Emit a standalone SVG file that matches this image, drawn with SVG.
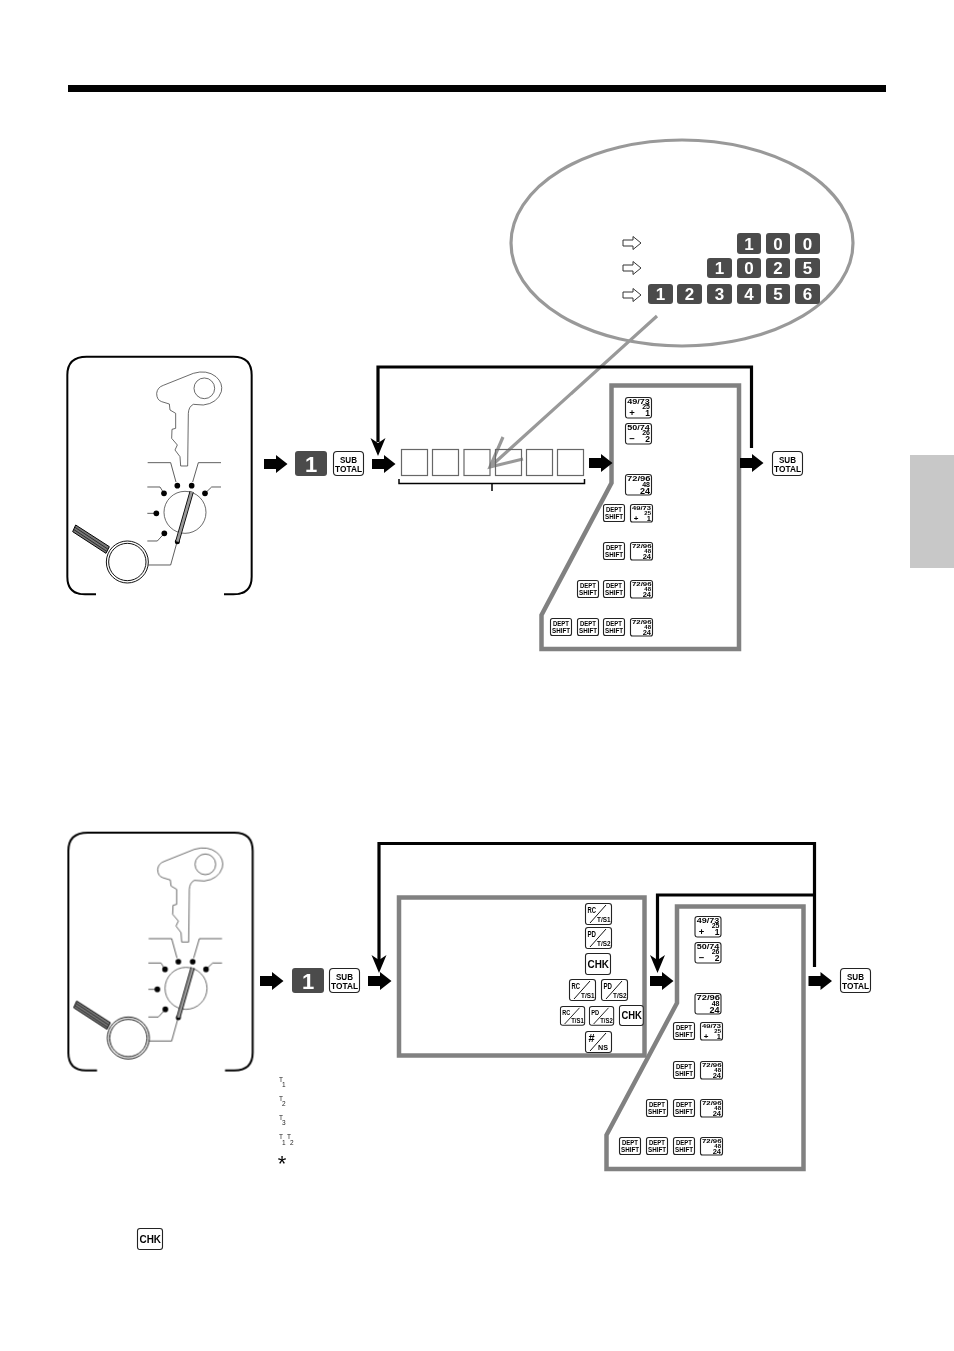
<svg xmlns="http://www.w3.org/2000/svg" width="954" height="1351" viewBox="0 0 954 1351">
<style>
text{font-family:"Liberation Sans",Arial,sans-serif;font-weight:bold;fill:#000}
.m{text-anchor:middle}.e{text-anchor:end}
.kb{fill:#fff;stroke:#222;stroke-width:1.1}
.dk{fill:#4a4a4a}
.dt{fill:#fff;font-size:17px;text-anchor:middle}
.dl{fill:#fff;font-size:22px;text-anchor:middle}
.fr{fill:none;stroke:#808080;stroke-width:4.500}
.cn{fill:none;stroke:#000;stroke-width:3.200}
.cell{fill:none;stroke:#666;stroke-width:1.200}
.ca{fill:none;stroke:#999;stroke-width:3.200}
.tx{font-size:6.500px;font-weight:normal;fill:#222}
</style>
<defs>
<path id="arr" d="M0,-5H12V-9L23.500,0L12,9V5H0Z" fill="#000"/>
<path id="hol" d="M0,-3H10V-6.500L18,0L10,6.500V3H0Z" fill="#fff" stroke="#333" stroke-width="1"/>
<path id="dn" d="M-7.500,-18L0,-13L7.500,-18L0,0Z" fill="#000"/>
<g id="sub"><rect class="kb" x="0.500" y="0.500" width="30" height="24" rx="3.500"/><text x="7" y="11.500" font-size="9.500" textLength="17" lengthAdjust="spacingAndGlyphs">SUB</text><text x="2" y="21" font-size="9.500" textLength="27" lengthAdjust="spacingAndGlyphs">TOTAL</text></g>
<g id="k49"><rect class="kb" x="0.500" y="0.500" width="26" height="20.500" rx="2.500"/><text x="2.300" y="6.800" font-size="7.500" textLength="22.500" lengthAdjust="spacingAndGlyphs">49/73</text><text class="e" x="25" y="12.300" font-size="7">25</text><text class="m" x="7" y="19" font-size="9.500">+</text><text class="e" x="25" y="19" font-size="8.500">1</text></g>
<g id="k50"><rect class="kb" x="0.500" y="0.500" width="26" height="20.500" rx="2.500"/><text x="2.300" y="6.800" font-size="7.500" textLength="22.500" lengthAdjust="spacingAndGlyphs">50/74</text><text class="e" x="25" y="12.300" font-size="7">26</text><text class="m" x="7" y="19" font-size="9.500">−</text><text class="e" x="25" y="19" font-size="8.500">2</text></g>
<g id="k72"><rect class="kb" x="0.500" y="0.500" width="26" height="20.500" rx="2.500"/><text x="2" y="6.800" font-size="7.500" textLength="23.500" lengthAdjust="spacingAndGlyphs">72/96</text><text class="e" x="25" y="12.500" font-size="7">48</text><text class="e" x="25" y="19.500" font-size="9">24</text></g>
<g id="k49s"><rect class="kb" x="0.500" y="0.500" width="22" height="17.500" rx="2"/><text x="2" y="5.800" font-size="6" textLength="19" lengthAdjust="spacingAndGlyphs">49/73</text><text class="e" x="21" y="10.500" font-size="6">25</text><text class="m" x="6" y="16.500" font-size="8">+</text><text class="e" x="21" y="16.500" font-size="7.500">1</text></g>
<g id="k72s"><rect class="kb" x="0.500" y="0.500" width="22" height="17.500" rx="2"/><text x="2" y="5.800" font-size="6" textLength="19.500" lengthAdjust="spacingAndGlyphs">72/96</text><text class="e" x="21" y="10.500" font-size="6">48</text><text class="e" x="21" y="16.800" font-size="7.500">24</text></g>
<g id="dept"><rect class="kb" x="0.500" y="0.500" width="21" height="17" rx="2"/><text x="3" y="7.500" font-size="7" textLength="16" lengthAdjust="spacingAndGlyphs">DEPT</text><text x="2" y="14.800" font-size="7" textLength="18" lengthAdjust="spacingAndGlyphs">SHIFT</text></g>
<g id="krc"><rect class="kb" x="0.500" y="0.500" width="26" height="21" rx="2.500"/><path d="M5,20L21,2" stroke="#111" stroke-width="1"/><text x="2.500" y="9.500" font-size="8.500" textLength="8.500" lengthAdjust="spacingAndGlyphs">RC</text><text x="12" y="18.500" font-size="7" textLength="13.500" lengthAdjust="spacingAndGlyphs">T/S1</text></g>
<g id="kpd"><rect class="kb" x="0.500" y="0.500" width="26" height="21" rx="2.500"/><path d="M5,20L21,2" stroke="#111" stroke-width="1"/><text x="2.500" y="9.500" font-size="8.500" textLength="8.500" lengthAdjust="spacingAndGlyphs">PD</text><text x="12" y="18.500" font-size="7" textLength="13.500" lengthAdjust="spacingAndGlyphs">T/S2</text></g>
<g id="kns"><rect class="kb" x="0.500" y="0.500" width="26" height="21" rx="2.500"/><path d="M5,20L21,2" stroke="#111" stroke-width="1"/><text x="3.500" y="11" font-size="11">#</text><text x="13" y="19" font-size="7.500" textLength="10" lengthAdjust="spacingAndGlyphs">NS</text></g>
<g id="chk"><rect class="kb" x="0.500" y="0.500" width="25" height="21" rx="2.500"/><text x="2.500" y="15" font-size="11.500" textLength="21.500" lengthAdjust="spacingAndGlyphs">CHK</text></g>
<g id="mode" transform="scale(.33333)">
<path d="M108,733H75Q22,733 22,680V75Q22,20 80,20H520Q575,20 575,75V680Q575,733 520,733H492" fill="none" stroke="#000" stroke-width="6"/>
<path d="M290,130Q292,112 310,106L400,70Q440,58 468,80Q490,100 484,125Q472,160 430,165L400,163Q386,170 385,190L383,348H362L360,320L345,300L352,285L335,265L336,238L347,235V190L330,180L328,162L305,155Q290,150 290,130Z" fill="#fff" stroke="#333" stroke-width="2.200"/>
<circle cx="433" cy="115" r="31" fill="#fff" stroke="#333" stroke-width="2.200"/>
<path d="M263,338H332L348,396M483,338H415L398,396M262,411H300L312,430M483,411H455L435,430M262,490H289M262,573H292L313,550M350,580L332,645H265" fill="none" stroke="#222" stroke-width="2.200"/>
<circle cx="375" cy="487" r="63" fill="none" stroke="#333" stroke-width="2.200"/>
<g fill="#000"><circle cx="352" cy="407" r="8.500"/><circle cx="395" cy="407" r="8.500"/><circle cx="312" cy="430" r="8.500"/><circle cx="435" cy="430" r="8.500"/><circle cx="289" cy="490" r="8.500"/><circle cx="313" cy="550" r="8.500"/><circle cx="352" cy="575" r="7.500"/></g>
<path d="M395,425L352,575" stroke="#000" stroke-width="13"/><path d="M395,425L352,575" stroke="#999" stroke-width="8"/>
<path d="M47,525L148,590L138,610L38,545Z" fill="#777" stroke="#000" stroke-width="3"/>
<path d="M45,532L143,597M42,539L140,604" stroke="#000" stroke-width="2"/>
<circle cx="202" cy="636" r="63" fill="#fff" stroke="#111" stroke-width="3"/><circle cx="202" cy="636" r="56" fill="#fff" stroke="#111" stroke-width="3"/>
</g>
</defs>

<g id="page" opacity=".995">
<rect id="header-bar" x="68" y="85" width="818" height="7" fill="#000"/>
<rect id="side-tab" x="910" y="455" width="44" height="113" fill="#c8c8c8"/>

<g id="mode-panel-1"><use href="#mode" transform="translate(60,350)"/></g>
<g id="mode-panel-2"><use href="#mode" transform="translate(61,826)"/></g>

<g id="callout">
<ellipse cx="682" cy="243" rx="171" ry="103" fill="#fff" stroke="#999" stroke-width="3.200"/>
<path class="ca" d="M657,316L490,467M503,437L490,467L523,459"/>
<g id="hollow-arrows"><use href="#hol" x="623" y="243"/><use href="#hol" x="623" y="268"/><use href="#hol" x="623" y="295"/></g>
<g id="digits-100">
<rect class="dk" x="737" y="233" width="24" height="21" rx="3"/><text class="dt" x="749" y="249.500">1</text>
<rect class="dk" x="766" y="233" width="24" height="21" rx="3"/><text class="dt" x="778" y="249.500">0</text>
<rect class="dk" x="795" y="233" width="25" height="21" rx="3"/><text class="dt" x="807.500" y="249.500">0</text></g>
<g id="digits-1025">
<rect class="dk" x="707" y="258" width="25" height="20" rx="3"/><text class="dt" x="719.500" y="274">1</text>
<rect class="dk" x="737" y="258" width="24" height="20" rx="3"/><text class="dt" x="749" y="274">0</text>
<rect class="dk" x="766" y="258" width="24" height="20" rx="3"/><text class="dt" x="778" y="274">2</text>
<rect class="dk" x="795" y="258" width="25" height="20" rx="3"/><text class="dt" x="807.500" y="274">5</text></g>
<g id="digits-123456">
<rect class="dk" x="648" y="284" width="25" height="20" rx="3"/><text class="dt" x="660.500" y="300">1</text>
<rect class="dk" x="677" y="284" width="25" height="20" rx="3"/><text class="dt" x="689.500" y="300">2</text>
<rect class="dk" x="707" y="284" width="25" height="20" rx="3"/><text class="dt" x="719.500" y="300">3</text>
<rect class="dk" x="737" y="284" width="24" height="20" rx="3"/><text class="dt" x="749" y="300">4</text>
<rect class="dk" x="766" y="284" width="24" height="20" rx="3"/><text class="dt" x="778" y="300">5</text>
<rect class="dk" x="795" y="284" width="25" height="20" rx="3"/><text class="dt" x="807.500" y="300">6</text></g>
</g>

<g id="entry-1"><rect class="dk" x="295" y="451" width="32" height="25" rx="3"/><text class="dl" x="311" y="471.500">1</text><use href="#sub" x="333" y="451"/></g>
<g id="entry-2"><rect class="dk" x="292" y="968" width="32" height="25" rx="3"/><text class="dl" x="308" y="988.500">1</text><use href="#sub" x="329" y="968"/></g>
<g id="sub-3"><use href="#sub" x="772" y="451"/></g>
<g id="sub-4"><use href="#sub" x="840" y="968"/></g>

<g id="rate-boxes">
<rect class="cell" x="401.500" y="449.500" width="26" height="26"/><rect class="cell" x="432.500" y="449.500" width="26" height="26"/><rect class="cell" x="464" y="449.500" width="26" height="26"/><rect class="cell" x="495.500" y="449.500" width="26" height="26"/><rect class="cell" x="526.500" y="449.500" width="26" height="26"/><rect class="cell" x="557.500" y="449.500" width="26" height="26"/>
<path d="M399,479V483.500H584.500V479M492,483.500V491" fill="none" stroke="#000" stroke-width="1.500"/>
</g>

<g id="dept-keys-1">
<polygon class="fr" points="611.500,385.500 739,385.500 739,649 541.500,649 541.500,615 611.500,483"/>
<use href="#k49" x="625" y="397"/><use href="#k50" x="625" y="423"/><use href="#k72" x="625" y="474"/>
<use href="#dept" x="603" y="504"/><use href="#k49s" x="630" y="504"/>
<use href="#dept" x="603" y="542"/><use href="#k72s" x="630" y="542"/>
<use href="#dept" x="577" y="580"/><use href="#dept" x="603" y="580"/><use href="#k72s" x="630" y="580"/>
<use href="#dept" x="550" y="618"/><use href="#dept" x="577" y="618"/><use href="#dept" x="603" y="618"/><use href="#k72s" x="630" y="618"/>
</g>

<g id="tender-keys">
<rect x="399" y="897.500" width="245.500" height="158" fill="none" stroke="#808080" stroke-width="4.500"/>
<use href="#krc" x="585" y="903"/><use href="#kpd" x="585" y="927"/><use href="#chk" x="585" y="953"/>
<use href="#krc" x="569" y="979"/><use href="#kpd" x="601" y="979"/>
<use href="#krc" transform="translate(560,1006) scale(.93,.9)"/><use href="#kpd" transform="translate(589,1006) scale(.93,.9)"/><use href="#chk" transform="translate(619,1005) scale(.95,.95)"/>
<use href="#kns" x="585" y="1031"/>
</g>

<g id="dept-keys-2">
<polygon class="fr" points="677,906.500 803.500,906.500 803.500,1169 606.500,1169 606.500,1135 677,1003"/>
<use href="#k49" x="694.500" y="916"/><use href="#k50" x="694.500" y="942"/><use href="#k72" x="694.500" y="993"/>
<use href="#dept" x="673" y="1022"/><use href="#k49s" x="700" y="1022"/>
<use href="#dept" x="673" y="1061"/><use href="#k72s" x="700" y="1061"/>
<use href="#dept" x="646" y="1099"/><use href="#dept" x="673" y="1099"/><use href="#k72s" x="700" y="1099"/>
<use href="#dept" x="619" y="1137"/><use href="#dept" x="646" y="1137"/><use href="#dept" x="673" y="1137"/><use href="#k72s" x="700" y="1137"/>
</g>

<g id="connectors">
<path class="cn" d="M751.500,448V367H378V442"/><use href="#dn" x="378" y="456"/>
<path class="cn" d="M814.500,967V843.500H379V960"/><use href="#dn" x="379" y="973"/>
<path class="cn" d="M814.500,895H657.500V960"/><use href="#dn" x="657.500" y="973"/>
<use href="#arr" x="264" y="464"/><use href="#arr" x="372" y="464"/><use href="#arr" x="589" y="463"/><use href="#arr" x="740" y="463"/>
<use href="#arr" x="260" y="981"/><use href="#arr" x="368" y="981"/><use href="#arr" x="650" y="981"/><use href="#arr" x="808.500" y="981"/>
</g>

<g id="tax-marks">
<text class="tx" x="279" y="1081.500">T</text><text class="tx" x="282" y="1087">1</text>
<text class="tx" x="279" y="1100.500">T</text><text class="tx" x="282" y="1106">2</text>
<text class="tx" x="279" y="1119.500">T</text><text class="tx" x="282" y="1125">3</text>
<text class="tx" x="279" y="1139">T</text><text class="tx" x="282" y="1144.500">1</text><text class="tx" x="287" y="1139">T</text><text class="tx" x="290" y="1144.500">2</text>
<text class="m" x="282" y="1171" style="font-size:22px;font-weight:normal">*</text>
</g>
<g id="chk-note"><use href="#chk" x="137" y="1228"/></g>
</g>
</svg>
